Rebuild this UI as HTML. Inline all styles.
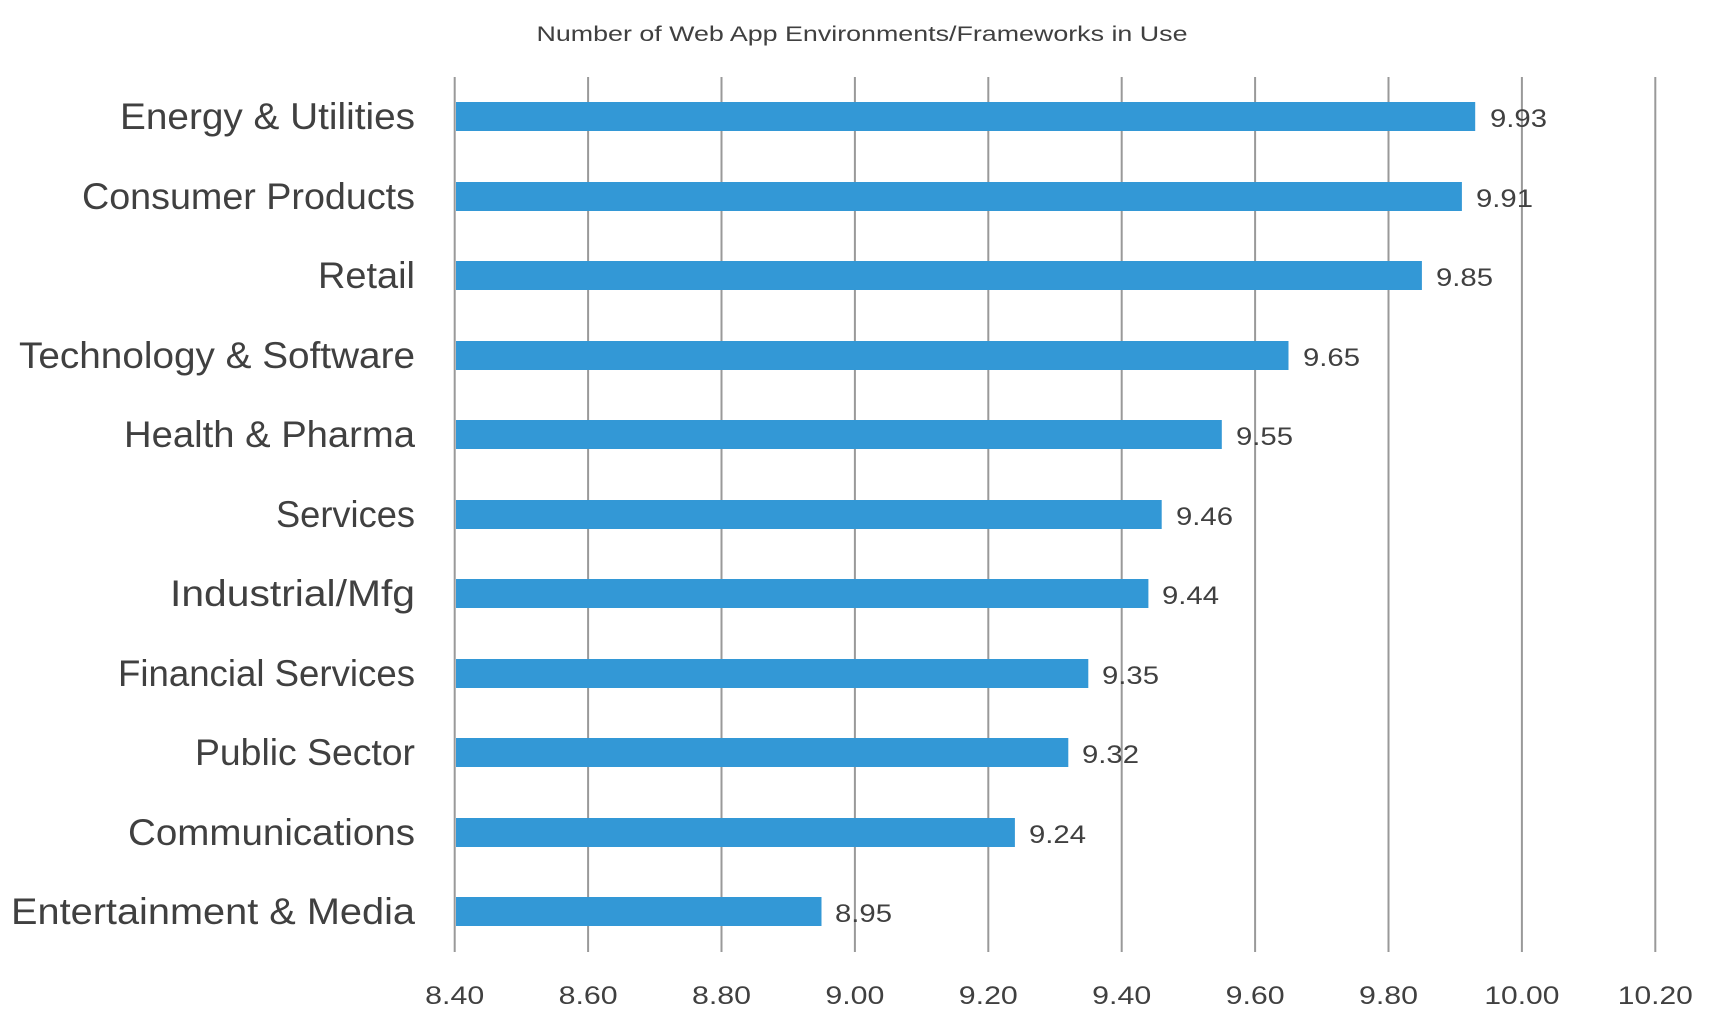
<!DOCTYPE html>
<html><head><meta charset="utf-8"><style>html,body{margin:0;padding:0;background:#fff}svg{display:block}</style></head>
<body>
<svg width="1717" height="1028" viewBox="0 0 1717 1028" xmlns="http://www.w3.org/2000/svg" font-family="Liberation Sans, sans-serif" fill="#404040">
<text x="862" y="41" font-size="21" text-anchor="middle" textLength="651" lengthAdjust="spacingAndGlyphs">Number of Web App Environments/Frameworks in Use</text>
<g stroke="#999" stroke-width="2">
<line x1="454.7" y1="77" x2="454.7" y2="952"/>
<line x1="588.1" y1="77" x2="588.1" y2="952"/>
<line x1="721.5" y1="77" x2="721.5" y2="952"/>
<line x1="854.9" y1="77" x2="854.9" y2="952"/>
<line x1="988.3" y1="77" x2="988.3" y2="952"/>
<line x1="1121.7" y1="77" x2="1121.7" y2="952"/>
<line x1="1255.1" y1="77" x2="1255.1" y2="952"/>
<line x1="1388.5" y1="77" x2="1388.5" y2="952"/>
<line x1="1521.9" y1="77" x2="1521.9" y2="952"/>
<line x1="1655.3" y1="77" x2="1655.3" y2="952"/>
</g>
<g font-size="25" text-anchor="middle">
<text x="454.7" y="1004" textLength="59" lengthAdjust="spacingAndGlyphs">8.40</text>
<text x="588.1" y="1004" textLength="59" lengthAdjust="spacingAndGlyphs">8.60</text>
<text x="721.5" y="1004" textLength="59" lengthAdjust="spacingAndGlyphs">8.80</text>
<text x="854.9" y="1004" textLength="59" lengthAdjust="spacingAndGlyphs">9.00</text>
<text x="988.3" y="1004" textLength="59" lengthAdjust="spacingAndGlyphs">9.20</text>
<text x="1121.7" y="1004" textLength="59" lengthAdjust="spacingAndGlyphs">9.40</text>
<text x="1255.1" y="1004" textLength="59" lengthAdjust="spacingAndGlyphs">9.60</text>
<text x="1388.5" y="1004" textLength="59" lengthAdjust="spacingAndGlyphs">9.80</text>
<text x="1521.9" y="1004" textLength="75" lengthAdjust="spacingAndGlyphs">10.00</text>
<text x="1655.3" y="1004" textLength="75" lengthAdjust="spacingAndGlyphs">10.20</text>
</g>
<g fill="#3398d6">
<rect x="456" y="102" width="1019.2" height="29"/>
<rect x="456" y="182" width="1005.9" height="29"/>
<rect x="456" y="261" width="965.9" height="29"/>
<rect x="456" y="341" width="832.5" height="29"/>
<rect x="456" y="420" width="765.8" height="29"/>
<rect x="456" y="500" width="705.7" height="29"/>
<rect x="456" y="579" width="692.4" height="29"/>
<rect x="456" y="659" width="632.3" height="29"/>
<rect x="456" y="738" width="612.3" height="29"/>
<rect x="456" y="818" width="558.9" height="29"/>
<rect x="456" y="897" width="365.5" height="29"/>
</g>
<g font-size="25">
<text x="1490" y="127" textLength="57" lengthAdjust="spacingAndGlyphs">9.93</text>
<text x="1476" y="207" textLength="57" lengthAdjust="spacingAndGlyphs">9.91</text>
<text x="1436" y="286" textLength="57" lengthAdjust="spacingAndGlyphs">9.85</text>
<text x="1303" y="366" textLength="57" lengthAdjust="spacingAndGlyphs">9.65</text>
<text x="1236" y="445" textLength="57" lengthAdjust="spacingAndGlyphs">9.55</text>
<text x="1176" y="525" textLength="57" lengthAdjust="spacingAndGlyphs">9.46</text>
<text x="1162" y="604" textLength="57" lengthAdjust="spacingAndGlyphs">9.44</text>
<text x="1102" y="684" textLength="57" lengthAdjust="spacingAndGlyphs">9.35</text>
<text x="1082" y="763" textLength="57" lengthAdjust="spacingAndGlyphs">9.32</text>
<text x="1029" y="843" textLength="57" lengthAdjust="spacingAndGlyphs">9.24</text>
<text x="835" y="922" textLength="57" lengthAdjust="spacingAndGlyphs">8.95</text>
</g>
<g font-size="37" text-anchor="end">
<text x="415" y="129" textLength="295" lengthAdjust="spacingAndGlyphs">Energy &amp; Utilities</text>
<text x="415" y="209" textLength="333" lengthAdjust="spacingAndGlyphs">Consumer Products</text>
<text x="415" y="288" textLength="97" lengthAdjust="spacingAndGlyphs">Retail</text>
<text x="415" y="368" textLength="396" lengthAdjust="spacingAndGlyphs">Technology &amp; Software</text>
<text x="415" y="447" textLength="291" lengthAdjust="spacingAndGlyphs">Health &amp; Pharma</text>
<text x="415" y="527" textLength="139" lengthAdjust="spacingAndGlyphs">Services</text>
<text x="415" y="606" textLength="245" lengthAdjust="spacingAndGlyphs">Industrial/Mfg</text>
<text x="415" y="686" textLength="297" lengthAdjust="spacingAndGlyphs">Financial Services</text>
<text x="415" y="765" textLength="220" lengthAdjust="spacingAndGlyphs">Public Sector</text>
<text x="415" y="845" textLength="287" lengthAdjust="spacingAndGlyphs">Communications</text>
<text x="415" y="924" textLength="404" lengthAdjust="spacingAndGlyphs">Entertainment &amp; Media</text>
</g>
</svg>
</body></html>
